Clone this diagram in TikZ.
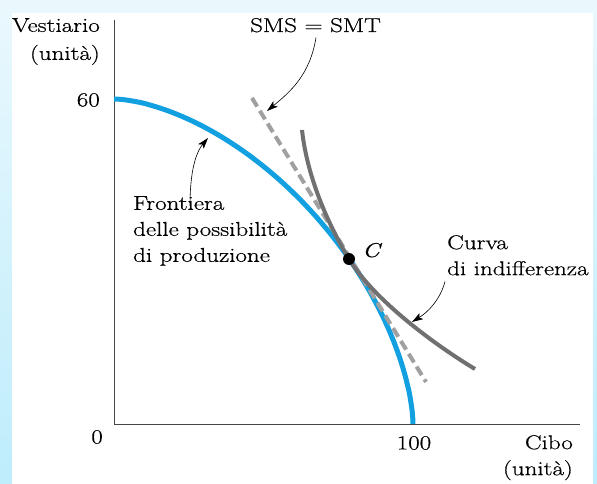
\documentclass[tikz,border=0pt]{standalone}
\usepackage{fontspec}
\setmainfont{Latin Modern Roman}[FakeStretch=1.25, FakeBold=0.6]
\usetikzlibrary{arrows.meta}
\definecolor{bgtop}{RGB}{234,248,253}
\definecolor{bgbot}{RGB}{190,237,252}
\definecolor{ppf}{RGB}{18,160,224}
\definecolor{smtgray}{RGB}{160,160,160}
\definecolor{icgray}{RGB}{112,112,112}
\definecolor{axisgray}{RGB}{70,70,70}
\begin{document}
\begin{tikzpicture}[x=1pt,y=-1pt,
  lbl/.style={font=\fontsize{20}{26}\selectfont, inner sep=0pt},
  arr/.style={-{Stealth[length=11pt,width=7pt,inset=2.5pt]}, black, line width=0.6pt},
  axisline/.style={axisgray, line width=1pt},
  ppfline/.style={ppf, line width=5pt},
  smtline/.style={smtgray, line width=4pt, dash pattern=on 10pt off 5pt},
  icline/.style={icgray, line width=4pt}]
\useasboundingbox (0,0) rectangle (597,484);
\shade[top color=bgtop, bottom color=bgbot] (0,0) rectangle (597,484);
\fill[white] (12,13) rectangle (593,484);
% axes
\coordinate (ytop) at (114,20);
\coordinate (O) at (114,424);
\coordinate (xend) at (580,424);
\draw[axisline] (ytop) -- (O) -- (xend);
% frontier
\draw[ppfline] plot[domain=0.01:89.99, samples=120, variable=\t]
  ({114+299*pow(cos(\t),1.212)}, {424-325*pow(sin(\t),1.212)});
% SMS = SMT line
\coordinate (s1) at (252,98);
\coordinate (s2) at (426,382);
\draw[smtline] (s1) -- (s2);
% indifference curve
\coordinate (C) at (349,259);
\draw[icline] (302,130) .. controls (308,185) and (335,236) .. (C)
  .. controls (374,300) and (435,345) .. (475,369);
\node[circle, fill=black, inner sep=0pt, minimum size=12pt] (Cdot) at (C) {};
% labels
\node[lbl, font=\fontsize{20}{28}\selectfont, anchor=north east, align=right] (vest) at (100,18) {Vestiario\\(unità)};
\node[lbl, anchor=east] (y60) at (100,100) {60};
\node[lbl, anchor=east] (zero) at (103,437) {0};
\node[lbl] (x100) at (414,443) {100};
\node[lbl, anchor=north east, align=right] (cibo) at (573,435) {Cibo\\(unità)};
\node[lbl, anchor=base west] (sms) at (250,32) {SMS = SMT};
\node[lbl, anchor=north west, align=left] (fr) at (133,196) {Frontiera\\delle possibilità\\di produzione};
\node[lbl, anchor=base west] (clab) at (362,257) {\textit{C}};
\node[lbl, anchor=north west, align=left] (curva) at (447,235) {Curva\\di indifferenza};
% arrows
\coordinate (smstip) at (267,111);
\coordinate (frtip) at (208,138);
\coordinate (ictip) at (412,322);
\draw[arr] ([xshift=66pt,yshift=-5pt]sms.south west) .. controls (310,75) and (290,92) .. (smstip);
\draw[arr] ([xshift=57pt,yshift=-10pt]fr.north west) .. controls (190,165) and (198,150) .. (frtip);
\draw[arr] ([xshift=-2pt,yshift=-6pt]curva.south west) .. controls (440,300) and (428,312) .. (ictip);
\end{tikzpicture}
\end{document}
